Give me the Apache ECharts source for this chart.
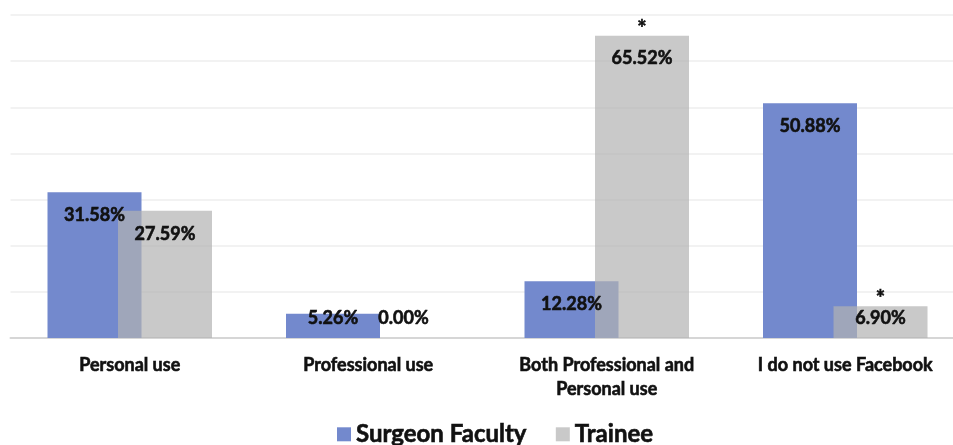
<!DOCTYPE html>
<html>
<head>
<meta charset="utf-8">
<script src="https://cdn.jsdelivr.net/npm/echarts@6/dist/echarts.min.js"></script>
<style>
  html, body { margin: 0; padding: 0; background: #ffffff; overflow: hidden; }
  #wrap { width: 953px; height: 445px; overflow: hidden; }
  #chart { width: 965px; height: 445px; }
</style>
</head>
<body>
<div id="wrap"><div id="chart"></div></div>
<script>
// Facebook use by group (percent of respondents)
const categories = [
  'Personal use',
  'Professional use',
  'Both Professional and\nPersonal use',
  'I do not use Facebook'
];
const seriesNames = ['Surgeon Faculty', 'Trainee'];
const surgeonFaculty = [31.58, 5.26, 12.28, 50.88];
const trainee = [27.59, 0.00, 65.52, 6.90];
// categories where the trainee difference is marked significant
const significantTrainee = [2, 3];
const yTicks = [0, 10, 20, 30, 40, 50, 60, 70];

const FONT = 'Lato';
const INK = '#111111';
const BLUE = '#7389cd';
const GRAY = 'rgba(178,178,178,0.7)';

// heavier bold: a thin outline in the text colour
const heavy = { textBorderColor: INK, textBorderWidth: 0.6 };

function labelledData(values) {
  return values.map(function (v) {
    const small = v < 10;
    return {
      value: v,
      label: {
        position: small ? 'insideBottom' : 'insideTop',
        distance: small ? 11 : 14
      }
    };
  });
}

const barLabel = Object.assign({
  show: true,
  color: INK,
  fontFamily: FONT,
  fontWeight: 'bold',
  fontSize: 18,
  formatter: function (p) { return p.value.toFixed(2) + '%'; }
}, heavy);

const chart = echarts.init(document.getElementById('chart'), null, { renderer: 'canvas' });
chart.setOption({
  backgroundColor: '#ffffff',
  animation: false,
  grid: { left: 10.5, right: 0.5, top: 15, bottom: 107 },
  legend: {
    data: seriesNames,
    top: 417,
    left: 332,
    icon: 'rect',
    itemWidth: 14,
    itemHeight: 14,
    itemGap: 29,
    textStyle: Object.assign({ fontFamily: FONT, fontWeight: 'bold', fontSize: 24, color: INK }, heavy)
  },
  xAxis: {
    type: 'category',
    data: categories,
    axisTick: { show: false },
    axisLine: { lineStyle: { color: '#d6d6d6', width: 2 } },
    axisLabel: Object.assign({
      interval: 0,
      margin: 15,
      fontFamily: FONT,
      fontWeight: 'bold',
      fontSize: 18,
      lineHeight: 24,
      color: INK
    }, heavy)
  },
  yAxis: {
    type: 'value',
    min: yTicks[0],
    max: yTicks[yTicks.length - 1],
    interval: 10,
    axisLabel: { show: false },
    axisLine: { show: false },
    axisTick: { show: false },
    splitLine: { lineStyle: { color: '#eeeeee', width: 1.5 } }
  },
  series: [
    {
      name: seriesNames[0],
      type: 'bar',
      data: labelledData(surgeonFaculty),
      barWidth: 94,
      barGap: '-25%',
      itemStyle: { color: BLUE },
      label: barLabel,
      z: 2
    },
    {
      name: seriesNames[1],
      type: 'bar',
      data: labelledData(trainee),
      barWidth: 94,
      barGap: '-25%',
      itemStyle: { color: GRAY },
      label: barLabel,
      z: 2,
      markPoint: {
        symbol: 'circle',
        symbolSize: 0,
        label: Object.assign({
          show: true,
          position: 'top',
          distance: -4,
          formatter: '*',
          fontFamily: FONT,
          fontWeight: 'bold',
          fontSize: 22,
          color: INK
        }, heavy),
        data: significantTrainee.map(function (i) {
          return { coord: [i, trainee[i]], value: trainee[i] };
        })
      }
    }
  ]
});
</script>
</body>
</html>
